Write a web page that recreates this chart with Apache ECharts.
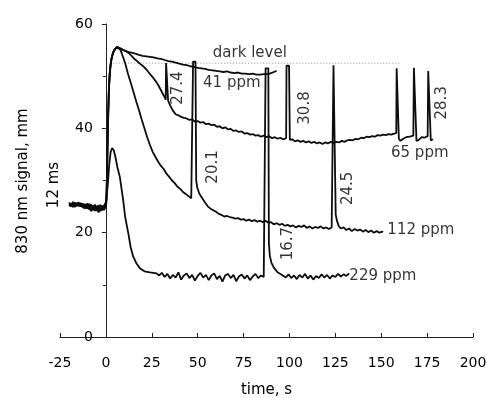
<!DOCTYPE html>
<html><head><meta charset="utf-8">
<script src="https://cdn.jsdelivr.net/npm/echarts@6/dist/echarts.min.js"></script>
<style>html,body{margin:0;padding:0;background:#fff}#c{width:487px;height:398px}</style>
</head><body><div id="c"></div>
<script>
// ---- data (time s, signal mm) ----
const s41 = [[-20,25.4],[-19,25.7],[-18,25.2],[-17,25.6],[-16,25.1],[-15,25.5],[-14,25.0],[-13,25.6],[-12,24.9],[-11,25.4],[-10,25.0],[-9,25.5],[-8,24.7],[-7,25.2],[-6,24.5],[-5,25.1],[-4,24.6],[-3,25.3],[-2,24.7],[-1,25.2],[-0.2,24.9],
 [0.3,26],[0.7,33],[1.1,41],[1.6,47.5],[2.2,51.2],[3,53.4],[4,54.6],[5,55.2],[6.3,55.6],
 [8,55.3],[9.5,55.0],[11,54.8],[12.5,54.6],[14,54.5],[16,54.3],[18,54.1],[20,53.9],[22,53.8],[24,53.7],[26,53.6],[28,53.4],[30,53.3],[32,53.1],[34,52.9],[36,52.8],[38,52.6],[40,52.4],[42,52.2],[44,52.1],[46,51.9],[48,51.8],[50,51.6],[52,51.5],[54,51.4],[56,51.2],[58,51.1],[60,51.0],[62,50.9],[64,50.8],[66,50.9],[68,50.7],[70,50.6],[72,50.7],[74,50.5],[76,50.5],[78,50.4],[80,50.5],[82,50.3],[84,50.3],[86,50.4],[88,50.4],[90,50.6],[91.5,50.8],[93,51.0]];

const s65 = [[-20,25.8],[-19,25.2],[-18,25.9],[-17,25.3],[-16,25.7],[-15,25.1],[-14,25.6],[-13,24.9],[-12,25.5],[-11,24.8],[-10,25.6],[-9,24.9],[-8,25.4],[-7,24.3],[-6,25.1],[-5,24.4],[-4,25.3],[-3,24.1],[-2,25.0],[-1,24.5],[-0.2,25.1],
 [0.4,27],[0.8,35],[1.3,43],[1.8,48.5],[2.5,52],[3.3,53.8],[4.3,54.9],[5.3,55.3],[6.5,55.5],
 [8,55.3],[9.5,55.0],[11,54.8],[12.5,54.4],[14,53.9],[15.5,53.3],[17,52.9],[18.5,52.4],[20,52.0],[21,51.8],[22.5,51.1],[24,50.4],[25.5,49.8],[27,49.1],[28.5,48.3],[30,47.3],[31.5,46.3],[32.6,45.5],
 [32.8,52.5],[33.6,52.5],[33.9,45.3],[35,44.4],[36.5,43.4],[38,42.7],[39.5,42.5],[41,42.2],[42.5,42.0],[44,41.9],[45.5,41.6],[47,41.7],[48.5,41.3],[50,41.4],[51.5,41.1],[53,41.2],[54.5,40.8],[56,40.9],[57.5,40.6],[59,40.7],[60.5,40.3],[62,40.4],[63.5,40.0],[65,40.2],[66.5,39.8],[68,39.9],[69.5,39.5],[71,39.6],[72.5,39.3],[74,39.4],[75.5,39.0],[77,39.1],[78.5,38.8],[80,38.9],[81.5,38.6],[83,38.7],[84.5,38.4],[86,38.6],[87.5,38.3],[89,38.5],[90.5,38.1],[92,38.3],[93.5,38.0],[95,38.2],[96.5,37.9],[98.2,38.1],
 [98.4,52],[99.8,52],[100.2,37.8],[101.5,37.9],[103,37.5],[104.5,37.7],[106,37.4],[107.5,37.6],[109,37.3],[110.5,37.5],[112,37.2],[113.5,37.4],[115,37.1],[116.5,37.3],[118,37.0],[119.5,37.3],[121,37.1],[122.5,37.4],[124,37.2],[125.5,37.4],[127,37.3],[128.5,37.6],[130,37.4],[131.5,37.7],[133,37.8],[134.5,37.7],[136,38.0],[137.5,37.9],[139,38.2],[140.5,38.1],[142,38.4],[143.5,38.3],[145,38.5],[146.5,38.4],[148,38.7],[149.5,38.6],[151,38.8],[152.5,38.7],[154,38.9],[155.5,38.8],[157,39.0],[158.2,39.1],
 [158.4,51.5],[159.2,51.5],[159.6,38.0],[160.5,37.6],[162,38.0],[163.5,38.3],[165.5,38.4],[167.5,38.6],
 [167.8,51.6],[168.8,51.6],[169.2,37.6],[170.5,37.8],[172,38.3],[173.5,38.2],[175.3,38.5],
 [175.6,51.0],[176.6,51.0],[177,37.7],[178.2,37.9]];

const s112 = [[-20,25.1],[-19,25.5],[-18,24.9],[-17,25.8],[-16,25.3],[-15,25.0],[-14,25.7],[-13,25.2],[-12,24.7],[-11,25.5],[-10,24.6],[-9,25.2],[-8,24.1],[-7,24.9],[-6,24.2],[-5,24.8],[-4,23.9],[-3,24.7],[-2,24.3],[-1,24.9],[-0.2,24.6],
 [0.2,25.5],[0.6,31],[1.0,39],[1.5,46],[2.0,50.3],[2.8,52.8],[3.8,54.3],[4.8,55.1],[6.0,55.6],
 [7,55.4],[8,55.0],[9,54.0],[10.5,52.5],[12,50.5],[13.5,48.8],[15,47.0],[16.5,45.2],[18,43.5],[19.5,41.7],[21,40.0],[22.5,38.3],[24,36.8],[25.5,35.5],[27,34.5],[28.5,33.6],[30,32.8],[31.5,32.2],[33,31.3],[34.5,30.7],[36,30.0],[37.5,29.5],[39,28.8],[40.5,28.4],[42,27.8],[43.5,27.4],[45,27.0],[46.5,26.6],[47.3,26.3],
 [47.5,52.8],[48.8,52.8],[49.2,30.0],[49.8,28.6],[51,27.4],[52.5,26.6],[54,25.8],[55.6,25.0],[57,24.6],[58.5,24.3],[60,24.0],[61.5,23.6],[63,23.4],[64.5,23.1],[66,23.2],[67.5,23.0],[69,22.9],[70.5,22.7],[72,22.8],[73.5,22.5],[75,22.6],[76.5,22.3],[78,22.5],[79.5,22.2],[81,22.4],[82.5,22.1],[84,22.3],[85.5,22.0],[87,22.3],[88.5,21.9],[90,22.0],[91.5,21.6],[93,21.8],[94.5,21.5],[96,21.7],[97.5,21.3],[99,21.5],[100.5,21.2],[102,21.4],[103.5,21.0],[105,21.3],[106.5,21.1],[108,21.4],[109.5,20.9],[111,21.2],[112.5,20.8],[114,21.1],[115.5,20.9],[117,21.2],[118.5,20.8],[120,21.0],[121.5,20.7],[123,21.0],[123.8,21.0],
 [124,52.1],[124.8,52.1],[125.2,23.5],[125.8,22.4],[126.8,21.3],[128,20.8],[129.5,21.0],[131,20.5],[132.5,20.8],[134,20.3],[135.5,20.7],[137,20.4],[138.5,20.6],[140,20.2],[141.5,20.5],[143,20.1],[144.5,20.4],[146,20.0],[147.5,20.3],[149,20.0],[150.5,20.2],[151,20.1]];

const s229 = [[-20,25.5],[-19,25.0],[-18,25.6],[-17,24.9],[-16,25.4],[-15,25.8],[-14,25.1],[-13,25.5],[-12,25.0],[-11,24.6],[-10,25.3],[-9,24.4],[-8,25.0],[-7,24.6],[-6,25.4],[-5,24.2],[-4,24.8],[-3,24.4],[-2,25.2],[-1,24.3],[-0.2,25.0],
 [0.3,25.3],[1,29],[1.8,33],[2.6,35.5],[3.4,36.2],[4.3,35.8],[5.2,34.5],[6.3,32.5],[7.6,30.7],[8.5,28.5],[9.4,26.3],[10.5,23],[12.2,19.9],[13.5,17.2],[14.9,15.4],[16.5,14.2],[18.5,13.2],[21,12.6],[24,12.4],[27.6,12.2],
 [29,11.8],[30.5,12.3],[32,11.5],[33.5,12.1],[35,11.2],[36.5,11.9],[38,11.4],[39.5,12.4],[41,11.0],[42.5,11.8],[44,12.2],[45.5,11.3],[47,11.9],[48.5,10.8],[50,11.7],[51.5,12.3],[53,11.4],[54.5,11.9],[56,10.9],[57.5,11.8],[59,12.2],[60.5,11.1],[62,11.7],[63.5,10.6],[65,11.8],[66.5,12.1],[68,11.3],[69.5,11.9],[71,10.7],[72.5,11.6],[74,12.0],[75.5,11.2],[77,11.8],[78.5,10.9],[80,11.6],[81.5,12.1],[83,11.3],[84.5,11.8],[86,11.5],[86.9,11.4],
 [87.0,51.5],[88.5,51.5],[88.8,18],[89.3,15.6],[90.2,14.2],[91.5,13.3],[93.5,12.4],[96,11.9],[98,11.4],[99.5,12.0],[101,11.3],[102.5,11.8],[104,11.1],[105.5,11.9],[107,11.4],[108.5,12.1],[110,11.2],[111.5,11.8],[113,11.0],[114.5,11.7],[116,11.3],[117.5,12.0],[119,11.4],[120.5,11.9],[122,11.2],[123.5,11.8],[125,11.5],[126.5,12.1],[128,11.6],[129.5,12.0],[131,11.7],[132.5,12.2]];

const darkLevel = [[4,52.5],[160,52.5]];

const annText = ['dark level','41 ppm','27.4','30.8','28.3','65 ppm','20.1','16.7','24.5','112 ppm','229 ppm'];
const annT    = [78.4, 68.6, 39.2, 108.4, 183.0, 171.0, 58.5, 99.1, 131.8, 171.6, 150.9];
const annV    = [54.4, 48.7, 47.7, 43.9, 44.9, 35.3, 32.6, 17.9, 28.5, 20.5, 11.7];
const annRot  = [0, 0, 90, 90, 90, 0, 90, 90, 90, 0, 0];

const yTitle1 = '830 nm signal, mm';
const yTitle2 = '12 ms';
const xTitle = 'time, s';

// ---- chart ----
const FONT = 'DejaVu Sans';
const INK = '#000';
const GRID_LEFT = 60;
const chart = echarts.init(document.getElementById('c'), null, {renderer:'canvas'});
const traceStyle = {color: '#0d0d0d', width: 1.8};
function trace(name, data){
  return {name, type:'line', data, symbol:'none', lineStyle: traceStyle, itemStyle:{color:'#0d0d0d'}, z:3, silent:true};
}
chart.setOption({
  animation:false,
  backgroundColor:'#fff',
  grid:{left:GRID_LEFT, right:14, top:24, bottom:61, outerBoundsMode:'none'},
  xAxis:{
    type:'value', min:-25, max:200, interval:25,
    axisLine:{onZero:true, lineStyle:{color:'#222', width:1}},
    axisTick:{show:true, inside:true, length:4, lineStyle:{color:'#222'}},
    axisLabel:{margin:19, fontSize:14, color:INK, fontFamily:FONT},
    splitLine:{show:false},
    name:xTitle, nameLocation:'middle', nameGap:46,
    nameTextStyle:{fontSize:15, color:INK, fontFamily:FONT}
  },
  yAxis:{
    type:'value', min:0, max:60, interval:20,
    axisLine:{show:true, onZero:false, lineStyle:{color:'#222', width:1}},
    axisTick:{show:true, length:4, lineStyle:{color:'#222'}},
    minorTick:{show:true, splitNumber:2, length:3, lineStyle:{color:'#222'}},
    axisLabel:{margin:13, fontSize:14, color:INK, fontFamily:FONT},
    splitLine:{show:false}
  },
  graphic:[
    {type:'text', rotation:Math.PI/2, x:23, y:181, z:10,
     style:{text:yTitle1, fontSize:15, fontFamily:FONT, fill:INK, align:'center', verticalAlign:'middle'}},
    {type:'text', rotation:Math.PI/2, x:54, y:185, z:10,
     style:{text:yTitle2, fontSize:15, fontFamily:FONT, fill:INK, align:'center', verticalAlign:'middle'}}
  ],
  series:[
    {type:'line', data:darkLevel, symbol:'none', lineStyle:{color:'#8a8a8a', width:1, type:[1,2]}, z:1, silent:true},
    trace('41 ppm', s41),
    trace('65 ppm', s65),
    trace('112 ppm', s112),
    trace('229 ppm', s229),
    {type:'scatter', symbolSize:0, z:5, silent:true,
     data: annText.map((t,i)=>({value:[annT[i], annV[i]],
        label:{show:true, formatter:t, rotate:annRot[i], position:'inside', align:'center', verticalAlign:'middle',
               fontSize:15, color:INK, fontFamily:FONT}}))}
  ]
});
// place the y axis at time = 0 (as in the original figure)
const px0 = chart.convertToPixel({xAxisIndex:0}, 0);
chart.setOption({yAxis:{offset: GRID_LEFT - px0}});
</script></body></html>
